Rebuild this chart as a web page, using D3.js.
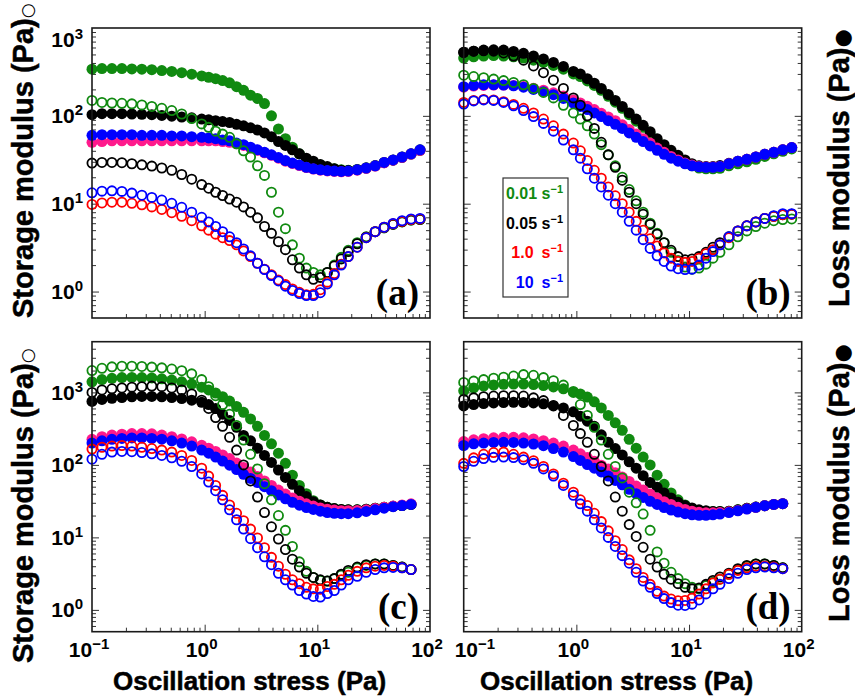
<!DOCTYPE html>
<html>
<head>
<meta charset="utf-8">
<script src="https://cdn.jsdelivr.net/npm/d3@7"></script>
<style>
  body { margin: 0; background: #fff; }
  text { font-family: "Liberation Sans", Arial, sans-serif; }
</style>
</head>
<body>
<svg id="chart" width="855" height="700"></svg>
<script>
// Oscillation stress sweep (Pa), shared by every sweep
const stress = [0.1, 0.1226, 0.1503, 0.1843, 0.2259, 0.277, 0.3396, 0.4164, 0.5105, 0.6258, 0.7674, 0.9408,
  1.085, 1.251, 1.443, 1.664, 1.92, 2.214, 2.554, 2.944, 3.396, 3.916, 4.517, 5.21, 6.008, 6.929, 7.992, 9.218,
  10.63, 12.26, 14.14, 16.31, 18.81, 22.59, 27.14, 32.61, 39.16, 47.05, 56.52, 67.9, 81.55];

// Pre-shear rates (s^-1) for the legend
const rateLabels = ["0.01", "0.05", "1.0", "10"];

// Panel (a): loss modulus G'' (filled) and storage modulus G' (open), Pa
const aLossG = [340,345,345,345,342,340,335,328,320,310,298,285,275,265,252,238,215,195,172,158,138,100,71,55,44,37,32,29.5,27.5,26,25,24.3,24,24.5,25.6,27.2,29.5,31.5,34,37,41];
const aLossK = [103,106,106,106,105,104,103,101,99,97,95,92,90,88,86,84,80,77,73,69,64,58,51,46,41,37,33,30.5,28,26.5,25,24,23.8,24.4,25.5,27,29.3,31.3,33.8,36.8,40.5];
const aLossR = [50,51,52,52,52,52,52,52,52,52,52,52,52,52,51,50,48,46,43,40.5,38,35.5,33,30.5,28.7,27.2,25.8,24.8,24.1,23.6,23.3,23.1,23.3,24.1,25.3,26.8,29.2,31.3,33.8,36.8,40.5];
const aLossB = [60,61,61,61,61,60,60,60,59,59,58,57,56,55,53,52,49,47,44,41,38.5,36,33.5,31,29,27.5,26,25,24.3,23.8,23.5,23.3,23.5,24.3,25.5,27,29.5,31.5,34,37,41];
const aStorG = [150,142,140,139,137,133,128,122,115,105,93,81,74,67,62,57,48,40,34,27,21,13.5,8,5.2,3.4,2.4,1.85,1.65,1.55,1.65,2.0,2.45,2.95,3.6,4.2,4.8,5.3,5.8,6.2,6.5,6.6];
const aStorK = [29,29.5,29.5,29.3,28.5,27.7,26.8,25.5,24,21.5,19,16.5,15,13.5,12.4,11.3,10.4,9.2,8,6.9,5.5,4.6,3.7,3.0,2.3,1.85,1.55,1.38,1.45,1.65,1.95,2.35,2.85,3.5,4.15,4.8,5.35,5.85,6.25,6.55,6.65];
const aStorR = [9.8,10.2,10.4,10.4,10.1,9.7,9.2,8.6,7.9,7.2,6.4,5.6,5.0,4.5,4.1,3.8,3.4,2.9,2.5,2.1,1.8,1.55,1.35,1.2,1.07,0.98,0.92,0.93,1.05,1.28,1.6,2.05,2.5,3.2,4.1,4.8,5.4,5.9,6.3,6.6,6.7];
const aStorB = [13.3,13.9,14,13.8,13.2,12.5,11.8,11,10.1,9.1,8.0,7.0,6.2,5.5,4.8,4.2,3.6,3.05,2.55,2.1,1.78,1.52,1.32,1.15,1.03,0.95,0.9,0.9,0.97,1.22,1.55,2.0,2.5,3.2,4.1,4.8,5.4,5.95,6.4,6.7,6.8];

// Panel (b)
const bLossG = [455,470,480,485,480,470,455,430,405,375,340,300,280,250,222,195,167,143,122,103,87,74,62,52,44,38,33,29.5,27,25.5,25,25,25.3,27,28.5,30,32,34.5,37,39.5,42];
const bLossK = [525,545,560,565,560,540,515,480,445,405,365,320,300,265,235,205,175,150,128,108,92,78,66,55,47,40.5,35.5,31.5,28.5,27,26.5,26.5,27.2,28.8,30.5,32,34,36.5,38.5,41,43.5];
const bLossR = [212,218,222,224,224,222,216,206,196,183,168,152,140,129,118,107,97,88,79,70,62,55,49,43,38.5,34.5,31.5,29,27.5,26.5,26.2,26.2,26.6,28.5,30.5,32,34,36.5,38.5,41,43.5];
const bLossB = [215,222,226,226,224,220,212,200,188,174,158,140,128,118,108,98,88,80,72,64,57,51,45.5,40.5,36.5,33,30.5,28.5,27,26.3,26,26,26.5,28.5,30.5,32,34,36.5,38.5,41,43.5];
const bStorG = [290,280,272,262,252,240,226,205,185,160,132,108,92,77,62,47,36,27,20,14.5,10.8,8,6,4.6,3.6,2.8,2.25,1.9,1.8,1.85,2.05,2.4,2.8,3.4,4.2,4.9,5.5,6.0,6.4,6.6,6.7];
const bStorK = [530,545,550,545,520,480,430,370,310,255,205,160,132,100,72,50,36,26,18.5,13.5,10,7.6,5.8,4.5,3.6,2.95,2.5,2.3,2.35,2.5,2.8,3.2,3.6,4.2,4.9,5.6,6.2,6.8,7.2,7.5,7.6];
const bStorR = [142,150,154,152,145,135,122,108,92,77,62,49,40,31,24,19.5,15.5,12.3,10,8,6.3,5.0,4.0,3.3,2.75,2.4,2.2,2.15,2.2,2.4,2.7,3.0,3.4,4.1,4.9,5.6,6.2,6.8,7.2,7.5,7.6];
const bStorB = [136,148,152,150,142,130,115,98,82,67,53,41,33,25,19.5,15.5,12.5,10,8,6.3,5.0,3.9,3.1,2.55,2.2,1.95,1.82,1.78,1.8,2.0,2.4,2.85,3.4,4.2,4.9,5.6,6.2,6.8,7.3,7.7,7.7];

// Panel (c)
const cLossG = [1400,1500,1560,1600,1610,1600,1580,1540,1480,1400,1300,1180,1080,980,870,760,640,530,430,340,255,195,145,105,72,52,40,32,28,26,25,24.3,24,24,24.5,25.3,26,26.8,27.5,28.5];
const cLossK = [750,800,830,850,870,880,880,870,850,820,780,730,680,600,500,410,330,255,215,170,135,108,85,67,54,44,36.5,31,28,26,25,24.3,24,24,24.5,25.3,26,26.8,27.5,28.5];
const cLossR = [225,245,258,265,270,270,268,258,245,228,208,186,170,153,137,122,106,92,80,69,60,52,45,39.5,35,31.5,29,27,25.5,24.5,23.8,23.3,23.3,23.5,24,25,26,27,28,29];
const cLossB = [200,215,225,232,235,235,232,226,215,200,182,160,145,128,113,99,86,74,65,57,50,44,38.5,34,30.5,27.8,25.8,24.3,23,22,21.5,21.2,21.2,21.8,22.8,24,25.3,26.5,27.5,28.5];
const cStorG = [2000,2150,2250,2300,2300,2280,2230,2180,2100,1990,1800,1500,1200,900,680,500,350,220,140,88,55,33,20,12.5,7.5,4.6,3.4,2.8,2.55,2.5,2.7,3.0,3.3,3.8,4.1,4.3,4.3,4.1,3.9,3.6];
const cStorK = [1000,1080,1120,1150,1180,1200,1220,1200,1150,1080,950,780,600,450,340,240,160,100,60,36,22,14,9.5,6.8,5.0,3.9,3.2,2.8,2.6,2.5,2.7,3.1,3.5,3.9,4.2,4.3,4.3,4.1,3.9,3.6];
const cStorR = [165,175,182,185,182,175,168,160,150,135,115,90,70,52,38,28,21.5,17,13,9.8,7.2,5.3,4.0,3.1,2.6,2.3,2.05,1.95,1.92,2.1,2.25,2.6,3.0,3.4,3.8,4.0,4.1,4.0,3.8,3.6];
const cStorB = [120,140,150,153,152,148,142,135,125,112,95,75,58,44,33,24,17.5,13,9.6,7.2,5.4,4.2,3.2,2.6,2.2,1.85,1.65,1.53,1.5,1.68,1.85,2.2,2.6,2.9,3.3,3.6,3.8,3.85,3.8,3.6];

// Panel (d)
const dLossG = [1050,1150,1220,1260,1290,1300,1300,1280,1240,1190,1120,1030,950,860,740,610,480,380,300,225,170,128,100,72,54,41,33,28,25,23.5,23,22.7,22.7,23,24,25.2,26.2,27.4,28.5,29.2];
const dLossK = [650,680,700,715,725,728,725,715,695,660,610,540,470,400,340,260,205,168,137,110,90,71,57,49,41,35,30.5,27.5,25.5,24,23.3,22.8,22.8,23,24,25.2,26.2,27.4,28.5,29.2];
const dLossR = [210,222,230,236,240,240,236,228,216,200,182,160,142,126,112,99,88,78,68,59,51,45,39.5,35,31,28.5,26,24.3,23,22.2,21.8,21.8,22,22.5,23.5,24.8,26,27.4,28.5,29.2];
const dLossB = [185,195,200,204,205,204,200,194,184,168,150,130,115,101,90,80,70,61,53,46,40,35.5,31.5,28.5,25.8,23.8,22.3,21.2,20.5,20.2,20.2,20.5,21,22,23.3,24.6,26,27.4,28.5,29.2];
const dStorG = [1370,1430,1500,1570,1620,1680,1760,1720,1600,1450,1260,1000,680,480,330,220,140,95,66,42,30,21,12.5,6.3,4.4,3.3,2.7,2.3,2.05,1.95,2.15,2.4,2.65,3.1,3.6,4.0,4.3,4.3,4.1,3.8];
const dStorK = [800,840,870,890,900,900,890,840,770,650,480,350,270,205,140,95,60,36,23,15,10.3,7.3,5.0,3.9,3.1,2.65,2.3,2.05,1.95,2.0,2.25,2.55,2.85,3.2,3.7,4.1,4.3,4.3,4.1,3.8];
const dStorR = [105,125,140,148,150,140,128,114,95,75,56,42,33,27.5,21.5,16.5,12.3,9.0,6.8,4.9,3.7,2.8,2.25,1.8,1.55,1.41,1.34,1.35,1.45,1.65,1.95,2.35,2.65,3.1,3.5,3.8,4.0,4.0,3.9,3.7];
const dStorB = [95,112,122,127,128,126,118,105,88,70,52,38,29,23,17.5,13.5,10,7.5,5.6,4.4,3.3,2.5,2.05,1.68,1.43,1.26,1.16,1.15,1.2,1.37,1.66,1.95,2.25,2.7,3.2,3.6,3.8,3.9,3.8,3.7];

// Marker colours per rate: open (storage) and filled (loss)
const storageColors = ["#108a10", "#000000", "#ff0000", "#0000ff"];
const lossColors = ["#108a10", "#000000", "#ff1a8c", "#0000ff"];

const panels = [
  { tag: "(a)", left: 92, top: 28, yMax: 1000, yLabels: true, xLabels: false,
    loss: [aLossG, aLossK, aLossR, aLossB], storage: [aStorG, aStorK, aStorR, aStorB] },
  { tag: "(b)", left: 463.7, top: 28, yMax: 1000, yLabels: false, xLabels: false, legend: true,
    loss: [bLossG, bLossK, bLossR, bLossB], storage: [bStorG, bStorK, bStorR, bStorB] },
  { tag: "(c)", left: 92, top: 341.7, yMax: 5000, yLabels: true, xLabels: true,
    loss: [cLossG, cLossK, cLossR, cLossB], storage: [cStorG, cStorK, cStorR, cStorB] },
  { tag: "(d)", left: 463.7, top: 341.7, yMax: 5000, yLabels: false, xLabels: true, nudgeFirst: true,
    loss: [dLossG, dLossK, dLossR, dLossB], storage: [dStorG, dStorK, dStorR, dStorB] }
];

const W = 338, H = 290;
const svg = d3.select("#chart");

// power-of-ten label: "10" with a raised exponent
function powerLabel(sel, exp, baseSize, supSize, supShift) {
  sel.append("tspan").text("10").attr("font-size", baseSize);
  sel.append("tspan").text(exp < 0 ? "\u2212" + (-exp) : String(exp))
    .attr("font-size", supSize).attr("dy", -supShift);
}

function minorValues(lo, hi) {
  const out = [];
  for (let d = -2; d <= 4; d++) {
    for (let k = 2; k <= 9; k++) {
      const v = +(k * Math.pow(10, d)).toPrecision(6);
      if (v > lo && v < hi) out.push(v);
    }
  }
  return out;
}

panels.forEach(p => {
  const x = d3.scaleLog().domain([0.1, 100]).range([p.left, p.left + W]);
  const y = d3.scaleLog().domain([0.5, p.yMax]).range([p.top + H, p.top]);
  const g = svg.append("g");

  const yMajor = [1, 10, 100, 1000].filter(v => v > 0.5 && v < p.yMax);
  const yMinor = minorValues(0.5, p.yMax);
  const xMajor = [1, 10];
  const xMinor = minorValues(0.1, 100);

  const tickStyle = s => {
    s.select(".domain").remove();
    s.selectAll(".tick line").attr("stroke", "#333").attr("stroke-width", 1);
  };
  const addAxis = (axis, tx, ty) => g.append("g").attr("transform", `translate(${tx},${ty})`).call(axis).call(tickStyle);

  addAxis(d3.axisLeft(y).tickValues(yMajor).tickSize(-7).tickFormat(""), p.left, 0);
  addAxis(d3.axisLeft(y).tickValues(yMinor).tickSize(-4).tickFormat(""), p.left, 0);
  addAxis(d3.axisRight(y).tickValues(yMajor).tickSize(-7).tickFormat(""), p.left + W, 0);
  addAxis(d3.axisRight(y).tickValues(yMinor).tickSize(-4).tickFormat(""), p.left + W, 0);
  addAxis(d3.axisBottom(x).tickValues(xMajor).tickSize(-7).tickFormat(""), 0, p.top + H);
  addAxis(d3.axisBottom(x).tickValues(xMinor).tickSize(-4).tickFormat(""), 0, p.top + H);

  // filled markers: loss modulus
  p.loss.forEach((vals, i) => {
    g.append("g").selectAll("circle").data(vals).join("circle")
      .attr("cx", (v, j) => x(stress[j]))
      .attr("cy", v => y(v))
      .attr("r", 5.5)
      .attr("fill", lossColors[i]);
  });
  // open markers: storage modulus
  p.storage.forEach((vals, i) => {
    g.append("g").selectAll("circle").data(vals).join("circle")
      .attr("cx", (v, j) => x(stress[j]))
      .attr("cy", v => y(v))
      .attr("r", 4.6)
      .attr("fill", "none")
      .attr("stroke", storageColors[i])
      .attr("stroke-width", 1.8);
  });

  // frame
  g.append("rect").attr("x", p.left).attr("y", p.top).attr("width", W).attr("height", H)
    .attr("fill", "none").attr("stroke", "#1a1a1a").attr("stroke-width", 1.6);

  // panel tag
  g.append("text").attr("x", p.left + W - 11).attr("y", p.top + H - 13)
    .attr("text-anchor", "end").style("font-family", "'Liberation Serif', 'Times New Roman', serif")
    .attr("font-weight", "bold").attr("font-size", 37).text(p.tag);

  if (p.yLabels) {
    [0, 1, 2, 3].forEach(e => {
      const v = Math.pow(10, e);
      const cy = Math.max(y(v), p.top + 11);
      const t = g.append("text").attr("x", p.left - 9).attr("y", cy + 7.5)
        .attr("text-anchor", "end").attr("font-weight", "bold").attr("fill", "#000");
      powerLabel(t, e, 21, 15, 8);
    });
  }
  if (p.xLabels) {
    [-1, 0, 1, 2].forEach(e => {
      const first = e === -1 && p.nudgeFirst;
      const t = g.append("text")
        .attr("x", first ? p.left - 9 : x(Math.pow(10, e)) - 3).attr("y", 657)
        .attr("text-anchor", first ? "start" : "middle").attr("font-weight", "bold").attr("fill", "#000");
      powerLabel(t, e, 21, 15, 8);
    });
  }

  if (p.legend) {
    const lg = g.append("g");
    lg.append("rect").attr("x", 503).attr("y", 178).attr("width", 65).attr("height", 119)
      .attr("fill", "#fff").attr("stroke", "#333").attr("stroke-width", 1.2);
    const base = [199, 229, 258, 288];
    rateLabels.forEach((r, i) => {
      const t = lg.append("text").attr("x", 563).attr("y", base[i]).attr("text-anchor", "end")
        .attr("font-weight", "bold").attr("font-size", 16).attr("fill", storageColors[i]);
      t.append("tspan").text(r + (i >= 2 ? "\u2002" : " ") + "s");
      t.append("tspan").text("\u22121").attr("font-size", 11).attr("dy", -6);
    });
  }
});

// axis titles
const yTitle = (x0, y0, label, mark) => {
  const t = svg.append("text").attr("transform", `translate(${x0},${y0}) rotate(-90)`)
    .attr("font-weight", "bold").attr("font-size", 29).attr("fill", "#000")
    .attr("stroke", "#000").attr("stroke-width", 0.5);
  t.append("tspan").text(label);
  t.append("tspan").text(mark).style("font-family", "'DejaVu Sans', sans-serif")
    .attr("font-weight", "normal").attr("stroke-width", 0)
    .attr("font-size", mark === "\u25CB" ? 17 : 21);
};
yTitle(33, 318, "Storage modulus (Pa)", "\u25CB");
yTitle(33, 663, "Storage modulus (Pa)", "\u25CB");
yTitle(849, 307, "Loss modulus (Pa)", "\u25CF");
yTitle(849, 622, "Loss modulus (Pa)", "\u25CF");

[113, 480].forEach(x0 => {
  svg.append("text").attr("x", x0).attr("y", 690).attr("font-weight", "bold")
    .attr("font-size", 26).attr("fill", "#000").attr("stroke", "#000").attr("stroke-width", 0.5)
    .text("Oscillation stress (Pa)");
});
</script>
</body>
</html>
